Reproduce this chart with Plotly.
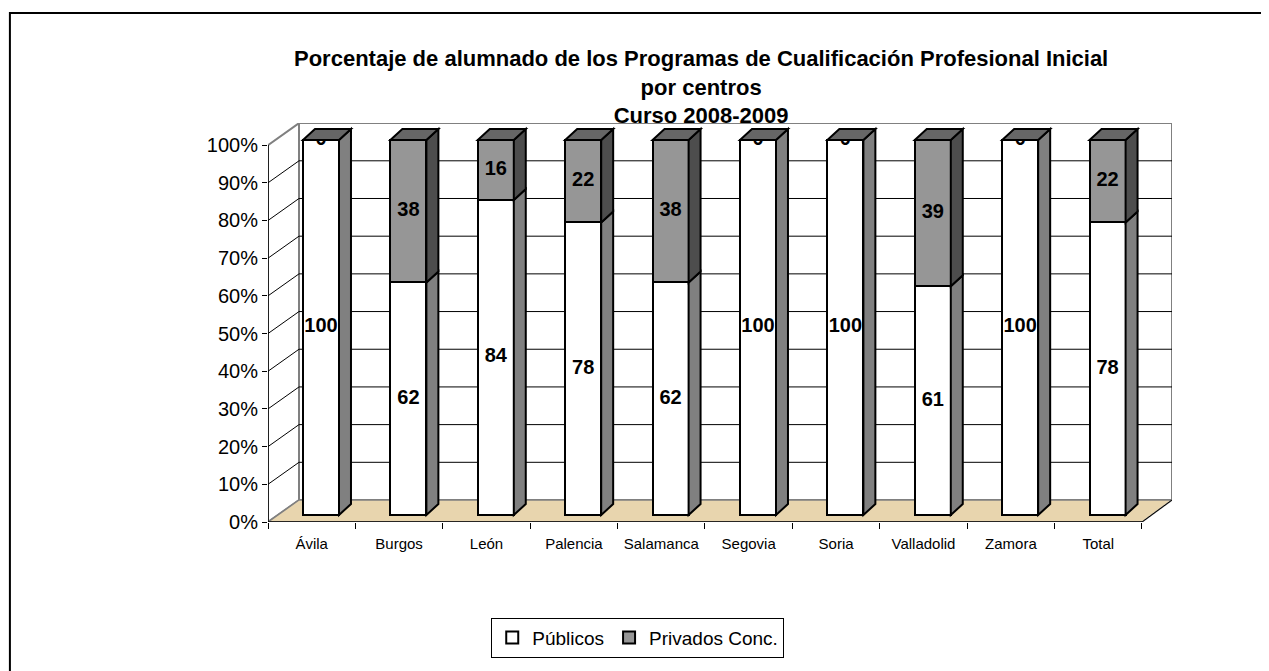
import plotly.graph_objects as go

# ---------------- data ----------------
categories = ["Ávila", "Burgos", "León", "Palencia", "Salamanca", "Segovia",
              "Soria", "Valladolid", "Zamora", "Total"]
publicos = [100, 62, 84, 78, 62, 100, 100, 61, 100, 78]
privados = [0, 38, 16, 22, 38, 0, 0, 39, 0, 22]
y_tick_labels = ["0%", "10%", "20%", "30%", "40%", "50%", "60%", "70%", "80%", "90%", "100%"]
title_lines = ["Porcentaje de alumnado de los Programas de Cualificación Profesional Inicial",
               "por centros", "Curso 2008-2009"]
series_names = ["Públicos", "Privados Conc."]

# ---------------- 3D frame geometry (axis units) ----------------
FONT = "Arial, 'Liberation Sans', sans-serif"
X_LEFT_FRONT, X_RIGHT_FRONT = -0.6064, 9.394
X_LEFT_BACK, X_RIGHT_BACK = -0.2517, 9.737
Y_FRONT0, Y_BACK0 = -1.867, 4.0
STEP = 10.05
Y_TOP_BACK = Y_BACK0 + 10 * STEP
BAR_W = 0.412
DX, DY = 0.137, 2.93

x_idx = list(range(len(categories)))

fig = go.Figure()
fig.add_trace(go.Bar(x=x_idx, y=publicos, name=series_names[0], width=BAR_W,
                     marker=dict(color="#FFFFFF", line=dict(color="#000000", width=2)),
                     hoverinfo="skip"))
fig.add_trace(go.Bar(x=x_idx, y=privados, name=series_names[1], width=BAR_W,
                     marker=dict(color="#969696", line=dict(color="#000000", width=2)),
                     hoverinfo="skip"))

# data labels
lab_x, lab_y, lab_t = [], [], []
for i, (p, q) in enumerate(zip(publicos, privados)):
    lab_x += [i, i]
    lab_y += [p / 2, p + q / 2]
    lab_t += [f"<b>{p}</b>", f"<b>{q}</b>"]
fig.add_trace(go.Scatter(x=lab_x, y=lab_y, text=lab_t, mode="text", showlegend=False,
                         textfont=dict(family=FONT, size=20, color="#000000"),
                         cliponaxis=False, hoverinfo="skip"))

shapes = []
# back wall
shapes.append(dict(type="rect", xref="x", yref="y", x0=X_LEFT_BACK, x1=X_RIGHT_BACK,
                   y0=Y_BACK0, y1=Y_TOP_BACK, fillcolor="#FFFFFF",
                   line=dict(color="#808080", width=2), layer="below"))
# left wall
shapes.append(dict(type="path", xref="x", yref="y",
                   path=f"M{X_LEFT_FRONT},{Y_FRONT0} L{X_LEFT_BACK},{Y_BACK0} L{X_LEFT_BACK},{Y_TOP_BACK} "
                        f"L{X_LEFT_FRONT},{Y_FRONT0 + 10 * STEP} Z",
                   fillcolor="#FFFFFF", line=dict(color="#808080", width=2), layer="below"))
# floor
shapes.append(dict(type="path", xref="x", yref="y",
                   path=f"M{X_LEFT_FRONT},{Y_FRONT0} L{X_RIGHT_FRONT},{Y_FRONT0} L{X_RIGHT_BACK},{Y_BACK0} "
                        f"L{X_LEFT_BACK},{Y_BACK0} Z",
                   fillcolor="#E8D5AE", line=dict(color="#808080", width=1.5), layer="below"))
shapes.append(dict(type="line", xref="x", yref="y", x0=X_RIGHT_FRONT, y0=Y_FRONT0,
                   x1=X_RIGHT_BACK, y1=Y_BACK0, line=dict(color="#000000", width=1), layer="below"))
# gridlines
for k in range(1, 10):
    yb = Y_BACK0 + k * STEP
    yf = Y_FRONT0 + k * STEP
    shapes.append(dict(type="line", xref="x", yref="y", x0=X_LEFT_BACK, x1=X_RIGHT_BACK,
                       y0=yb, y1=yb, line=dict(color="#000000", width=1), layer="below"))
    shapes.append(dict(type="line", xref="x", yref="y", x0=X_LEFT_FRONT, x1=X_LEFT_BACK,
                       y0=yf, y1=yb, line=dict(color="#000000", width=1), layer="below"))
# axis lines (front)
shapes.append(dict(type="line", xref="x", yref="y", x0=X_LEFT_FRONT, x1=X_LEFT_FRONT,
                   y0=Y_FRONT0, y1=Y_FRONT0 + 10 * STEP, line=dict(color="#000000", width=1.5)))
shapes.append(dict(type="line", xref="x", yref="y", x0=X_LEFT_FRONT, x1=X_RIGHT_FRONT,
                   y0=Y_FRONT0, y1=Y_FRONT0, line=dict(color="#000000", width=1.5)))

# bar side / top faces (3D effect) derived from the data
def side(i, b, v, color):
    xr = i + BAR_W / 2
    return dict(type="path", xref="x", yref="y",
                path=f"M{xr},{b} L{xr + DX},{b + DY} L{xr + DX},{b + v + DY} L{xr},{b + v} Z",
                fillcolor=color, line=dict(color="#000000", width=2), layer="above")

for i, (p, q) in enumerate(zip(publicos, privados)):
    if p > 0:
        shapes.append(side(i, 0, p, "#808080"))
    if q > 0:
        shapes.append(side(i, p, q, "#4D4D4D"))
    top = p + q
    xl, xr = i - BAR_W / 2, i + BAR_W / 2
    shapes.append(dict(type="path", xref="x", yref="y",
                       path=f"M{xl},{top} L{xl + DX},{top + DY} L{xr + DX},{top + DY} L{xr},{top} Z",
                       fillcolor="#666666", line=dict(color="#000000", width=2), layer="above"))

# outer frame
shapes.append(dict(type="rect", xref="paper", yref="paper", x0=-0.2855, x1=1.105,
                   y0=-0.446, y1=1.2757, line=dict(color="#000000", width=2),
                   fillcolor="rgba(0,0,0,0)"))

fig.update_layout(
    width=1261, height=663,
    margin=dict(l=260, r=97, t=115, b=149),
    paper_bgcolor="#FFFFFF", plot_bgcolor="rgba(0,0,0,0)",
    barmode="stack", bargap=0,
    font=dict(family=FONT, color="#000000"),
    shapes=shapes,
    showlegend=True,
    legend=dict(orientation="h", x=0.409, xanchor="center", y=-0.29, yanchor="middle",
                bordercolor="#000000", borderwidth=1, font=dict(size=19, family=FONT),
                traceorder="normal", itemwidth=30, bgcolor="#FFFFFF"),
    annotations=[dict(text="<br>".join(f"<b>{t}</b>" for t in title_lines),
                      xref="paper", yref="paper", x=0.479, y=1.09,
                      xanchor="center", yanchor="middle", showarrow=False,
                      font=dict(size=22, family=FONT, color="#000000"))],
)
fig.update_xaxes(range=[X_LEFT_FRONT, X_RIGHT_BACK], showgrid=False, zeroline=False, showline=False,
                 tickmode="array", tickvals=[i + (X_LEFT_FRONT + 0.5) for i in x_idx],
                 ticktext=categories, ticks="outside", ticklen=8, tickcolor="rgba(0,0,0,0)",
                 tickfont=dict(size=15, family=FONT, color="#000000"),
                 minor=dict(tickmode="array",
                            tickvals=[X_LEFT_FRONT + k for k in range(len(categories) + 1)],
                            ticks="outside", ticklen=6, tickcolor="#000000", tickwidth=1, showgrid=False))
fig.update_yaxes(range=[Y_FRONT0, 104.53], showgrid=False, zeroline=False, showline=False,
                 tickmode="array", tickvals=[Y_FRONT0 + k * STEP for k in range(11)],
                 ticktext=y_tick_labels, ticks="outside", ticklen=5, tickcolor="#000000",
                 tickfont=dict(size=20, family=FONT, color="#000000"))

fig.write_html("out.html")
